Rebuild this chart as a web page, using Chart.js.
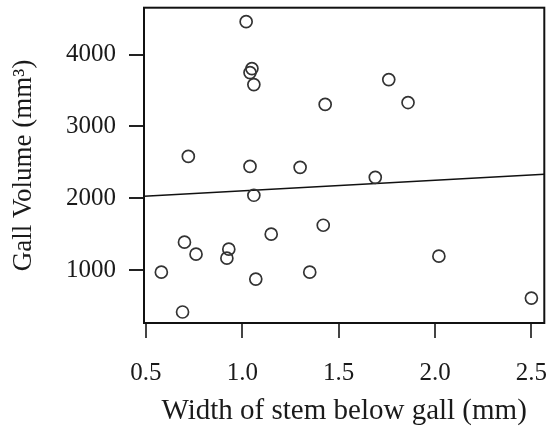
<html>
  <head>
    <script src="https://cdn.jsdelivr.net/npm/chart.js"></script>
    <style>
      body { margin: 0; background: #fff; }
    </style>
  </head>
  <body>
    <canvas id="myChart" width="552" height="436"></canvas>
  </body>
  <script>
    // stem width (mm) and gall volume (mm3)
    var stemWidth = [1.02, 1.05, 1.04, 1.06, 0.72, 1.04, 1.06, 1.76, 1.43, 1.86, 1.30, 1.69,
                     1.15, 0.70, 0.76, 0.93, 0.92, 0.58, 1.07, 0.69, 1.42, 1.35, 2.02, 2.50];
    var gallVolume = [4458, 3806, 3750, 3583, 2583, 2444, 2042, 3653, 3306, 3333, 2431, 2292,
                      1500, 1389, 1222, 1292, 1167, 972, 875, 417, 1625, 972, 1194, 611];

    // fitted line, ends at the axis limits
    var fitX = [0.49, 2.567];
    var fitY = [2028, 2333];

    var xTicks = [0.5, 1.0, 1.5, 2.0, 2.5];
    var yTicks = [1000, 2000, 3000, 4000];

    var points = stemWidth.map(function (w, i) { return { x: w, y: gallVolume[i] }; });
    var fitLine = fitX.map(function (w, i) { return { x: w, y: fitY[i] }; });

    var boxPlugin = {
      id: "box",
      afterDatasetsDraw: function (chart) {
        var a = chart.chartArea, ctx = chart.ctx;
        ctx.save();
        ctx.strokeStyle = "#111";
        ctx.lineWidth = 2;
        ctx.strokeRect(a.left, a.top, a.right - a.left, a.bottom - a.top);
        ctx.restore();
      }
    };

    function noPad(s) {
      s.paddingTop = 0; s.paddingBottom = 0; s.paddingLeft = 0; s.paddingRight = 0;
    }

    var serif = "'Liberation Serif', 'Times New Roman', serif";

    var dataObj = {
      type: "scatter",
      data: {
        datasets: [
          {
            label: "galls",
            data: points,
            pointRadius: 6,
            pointHoverRadius: 6,
            pointBorderWidth: 1.7,
            pointBackgroundColor: "rgba(0,0,0,0)",
            borderColor: "#333",
          },
          {
            type: "line",
            label: "fit",
            data: fitLine,
            borderColor: "#111",
            borderWidth: 1.5,
            pointRadius: 0,
            fill: false,
          },
        ],
      },
      options: {
        responsive: false,
        animation: false,
        layout: { padding: { top: 7, right: 3, left: 0, bottom: 0 } },
        plugins: { legend: { display: false }, tooltip: { enabled: false } },
        scales: {
          x: {
            type: "linear",
            min: 0.49,
            max: 2.567,
            afterBuildTicks: function (s) { s.ticks = xTicks.map(function (v) { return { value: v }; }); },
            afterFit: function (s) { s.height = 113; noPad(s); },
            border: { display: false },
            grid: { drawOnChartArea: false, drawTicks: true, tickLength: 15, color: "#444", lineWidth: 2 },
            ticks: {
              padding: 20,
              color: "#1a1a1a",
              maxRotation: 0,
              font: { family: serif, size: 25 },
              callback: function (v) { return v.toFixed(1); },
            },
            title: {
              display: true,
              text: "Width of stem below gall (mm)",
              color: "#1a1a1a",
              font: { family: serif, size: 29 },
              padding: { top: 0, bottom: 7 },
            },
          },
          y: {
            type: "linear",
            min: 264,
            max: 4653,
            afterBuildTicks: function (s) { s.ticks = yTicks.map(function (v) { return { value: v }; }); },
            afterFit: function (s) { s.width = 144; noPad(s); },
            border: { display: false },
            grid: { drawOnChartArea: false, drawTicks: true, tickLength: 15, color: "#222", lineWidth: 2 },
            ticks: {
              padding: 13,
              color: "#1a1a1a",
              font: { family: serif, size: 25 },
              callback: function (v) { return String(v); },
            },
            title: {
              display: true,
              text: "Gall Volume (mm³)",
              color: "#1a1a1a",
              font: { family: serif, size: 27 },
              padding: { top: 8, bottom: 0 },
            },
          },
        },
      },
      plugins: [boxPlugin],
    };
    const ctx = document.getElementById("myChart").getContext("2d");
    window.myScatter = new Chart(ctx, dataObj);
  </script>
</html>
